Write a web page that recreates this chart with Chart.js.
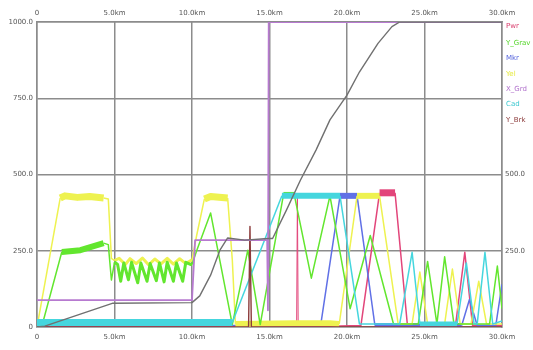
<!DOCTYPE html>
<html>
<head>
<meta charset="utf-8">
<script src="https://cdn.jsdelivr.net/npm/chart.js@4.4.1/dist/chart.umd.min.js"></script>
<style>
  html, body { margin: 0; padding: 0; background: #ffffff; }
  #wrap { position: relative; width: 533px; height: 350px; }
</style>
</head>
<body>
<div id="wrap"><canvas id="c" width="533" height="350"></canvas></div>
<script>
// ---- tick labels ----
const xTickLabels = ['0', '5.0km', '10.0km', '15.0km', '20.0km', '25.0km', '30.0km'];
const yTickLabels = ['0', '250.0', '500.0', '750.0', '1000.0'];
const y2TickLabels = ['', '250.0', '500.0', '', ''];

// ---- series names (legend) ----
const seriesNames = ['Pwr', 'Y_Grav', 'Mkr', 'Yel', 'X_Grd', 'Cad', 'Y_Brk'];

// ---- series values (distance km / value) ----
const altKm  = [0, 0.5, 4.9, 10.0, 10.5, 11.2, 11.8, 12.3, 13.4, 14.9, 15.2, 16.1, 17.0, 18.0, 18.9, 20.0, 20.8, 22.0, 22.9, 23.4, 30];
const altVal = [0, 3, 78, 80, 102, 170, 252, 292, 285, 290, 290, 384, 482, 580, 679, 760, 836, 930, 985, 1000, 1000];

const xgKm  = [0, 10.0, 10.2, 14.85, 14.9, 14.95, 30];
const xgVal = [88, 88, 285, 285, 55, 1000, 1000];

const yelKm  = [0, 1.5, 1.8, 2.6, 3.4, 4.3, 4.6, 4.8, 5.0, 5.3, 5.7, 6.0, 6.4, 6.8, 7.2, 7.6, 8.0, 8.4, 8.8, 9.2, 9.6, 10.0, 10.3, 10.8, 11.2, 12.3, 12.6, 12.8, 16.6, 18.9, 19.5, 20.65, 22.1, 23.3, 24.2, 24.7, 25.2, 26.3, 26.8, 27.3, 28.0, 28.5, 29.0, 30];
const yelVal = [0, 423, 430, 425, 428, 423, 420, 225, 218, 225, 205, 224, 208, 226, 204, 223, 207, 225, 206, 224, 208, 220, 300, 420, 428, 423, 220, 10, 12, 12, 10, 430, 430, 10, 10, 180, 10, 10, 190, 10, 10, 150, 10, 10];

const grnKm  = [0, 0.3, 1.6, 2.8, 4.3, 4.6, 4.8, 5.0, 5.2, 5.4, 5.6, 5.9, 6.1, 6.5, 6.7, 7.1, 7.3, 7.7, 7.9, 8.2, 8.4, 8.8, 9.0, 9.4, 9.6, 9.9, 10.0, 10.3, 11.2, 12.6, 13.6, 14.4, 15.9, 16.6, 17.7, 18.9, 20.2, 21.5, 23.0, 24.6, 25.2, 25.8, 26.3, 26.9, 29.2, 29.7, 30];
const grnVal = [0, 0, 246, 252, 275, 270, 154, 213, 205, 150, 210, 155, 212, 145, 210, 150, 208, 152, 210, 148, 212, 150, 210, 150, 212, 205, 205, 250, 374, 8, 252, 8, 433, 433, 160, 430, 60, 300, 10, 10, 215, 10, 230, 10, 10, 200, 60];

const cyaKm  = [0, 12.6, 15.8, 19.55, 20.8, 23.4, 24.2, 24.7, 27.1, 27.7, 28.2, 28.4, 28.9, 29.4, 30];
const cyaVal = [15, 15, 430, 430, 10, 10, 245, 10, 10, 210, 10, 10, 245, 10, 20];

const bluKm  = [0, 18.3, 19.55, 20.65, 21.8, 27.4, 27.9, 28.4, 29.6, 30];
const bluVal = [5, 5, 430, 430, 5, 5, 90, 5, 5, 140];

const redKm  = [0, 16.75, 16.8, 16.85, 20.9, 22.1, 23.1, 23.9, 27.0, 27.6, 28.1, 30];
const redVal = [0, 0, 430, 0, 5, 440, 440, 5, 5, 245, 5, 5];

const brkKm  = [0, 13.65, 13.74, 13.83, 30];
const brkVal = [0, 0, 330, 0, 0];

function pts(xs, ys) { return xs.map((x, i) => ({ x: x, y: ys[i] })); }

// thicker stroke over noisy stretches (style only)
function thick(ranges, base) {
  return ctx => {
    const a = ctx.p0.parsed.x, b = ctx.p1.parsed.x;
    for (const r of ranges) { if (a >= r[0] && b <= r[1]) return r[2]; }
    return base;
  };
}

function line(label, xs, ys, color, order, ranges, base) {
  return {
    label: label, data: pts(xs, ys), borderColor: color, backgroundColor: color,
    borderWidth: base, pointRadius: 0, tension: 0, order: order, fill: false,
    borderJoinStyle: 'round',
    segment: { borderWidth: thick(ranges || [], base) }
  };
}

const datasets = [
  line(seriesNames[0], redKm, redVal, '#e2457a', 7, [[22.1, 23.1, 7], [16.7, 16.9, 1]], 1.5),
  line(seriesNames[1], grnKm, grnVal, '#62e62e', 4, [[1.6, 4.4, 6], [5.0, 10.0, 3], [15.9, 16.6, 6]], 1.5),
  line(seriesNames[2], bluKm, bluVal, '#6070e6', 6, [[19.55, 20.65, 6], [21.8, 27.4, 5]], 1.5),
  line(seriesNames[3], yelKm, yelVal, '#eef250', 5, [[1.5, 4.4, 7], [5.0, 10.0, 3], [10.8, 12.3, 7], [12.8, 19.5, 6], [20.65, 22.1, 6]], 1.5),
  line(seriesNames[4], xgKm, xgVal, '#b77ad0', 1, [], 1.8),
  line(seriesNames[5], cyaKm, cyaVal, '#45d6de', 3, [[0, 12.6, 7], [15.8, 19.55, 6], [24.7, 27.1, 5]], 1.5),
  line(seriesNames[6], brkKm, brkVal, '#8c3b3b', 2, [], 1.4),
  line('', altKm, altVal, '#707070', 0, [], 1.4)
];
const legendColors = ['#d83a6a', '#55d62a', '#5564dc', '#e6ea40', '#b070cc', '#3cc8d0', '#8c3b3b'];

const gridColor = '#8c8c8c';
const tickFont = { family: 'DejaVu Sans', size: 7 };

const sideLegend = {
  id: 'sideLegend',
  afterDraw(chart) {
    const ctx = chart.ctx, a = chart.chartArea;
    ctx.save();
    ctx.font = '7px "DejaVu Sans"';
    ctx.textBaseline = 'middle';
    ctx.textAlign = 'left';
    seriesNames.forEach((n, i) => {
      ctx.fillStyle = legendColors[i];
      ctx.fillText(n, a.right + 4, a.top + 4 + i * 15.3 + (i > 0 ? 2 : 0));
    });
    ctx.restore();
  }
};

new Chart(document.getElementById('c'), {
  type: 'scatter',
  data: { datasets: datasets.map(d => Object.assign(d, { showLine: true })) },
  options: {
    responsive: false,
    animation: false,
    layout: { padding: 0 },
    plugins: { legend: { display: false }, tooltip: { enabled: false } },
    scales: {
      x: {
        type: 'linear', position: 'bottom', min: 0, max: 30,
        afterFit(s) { s.height = 23; },
        ticks: { stepSize: 5, maxRotation: 0, autoSkip: false, padding: 6, color: '#555', font: tickFont,
                 callback: v => xTickLabels[Math.round(v / 5)] },
        grid: { color: gridColor, lineWidth: 1.5, drawTicks: false },
        border: { color: gridColor, width: 1.5 }
      },
      x2: {
        type: 'linear', position: 'top', min: 0, max: 30,
        afterFit(s) { s.height = 22; },
        ticks: { stepSize: 5, maxRotation: 0, autoSkip: false, padding: 5, color: '#555', font: tickFont,
                 callback: v => xTickLabels[Math.round(v / 5)] },
        grid: { drawOnChartArea: false, drawTicks: false },
        border: { color: gridColor, width: 1.5 }
      },
      y: {
        type: 'linear', position: 'left', min: 0, max: 1000,
        afterFit(s) { s.width = 37; },
        ticks: { stepSize: 250, padding: 4, color: '#555', font: tickFont,
                 callback: v => yTickLabels[Math.round(v / 250)] },
        grid: { color: gridColor, lineWidth: 1.5, drawTicks: false },
        border: { color: gridColor, width: 1.5 }
      },
      y2: {
        type: 'linear', position: 'right', min: 0, max: 1000,
        afterFit(s) { s.width = 31; },
        ticks: { stepSize: 250, padding: 3, color: '#555', font: tickFont,
                 callback: v => y2TickLabels[Math.round(v / 250)] },
        grid: { drawOnChartArea: false, drawTicks: false },
        border: { color: gridColor, width: 1.5 }
      }
    }
  },
  plugins: [sideLegend]
});
</script>
</body>
</html>
